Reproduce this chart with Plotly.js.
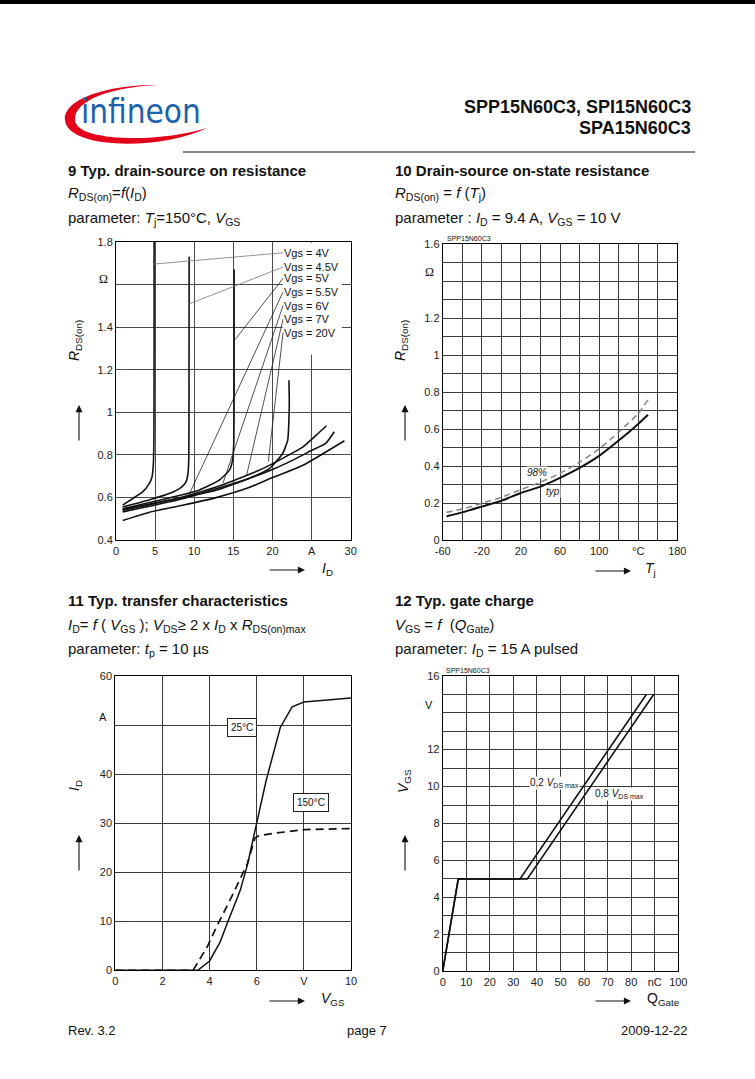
<!DOCTYPE html>
<html>
<head>
<meta charset="utf-8">
<script src="https://cdn.plot.ly/plotly-3.0.1.min.js"></script>
<style>
  body { margin: 0; background: #fff; }
  #page { width: 755px; height: 1079px; }
</style>
</head>
<body>
<div id="page"></div>
<script>
// ---------- data ----------

// 9: RDS(on) = f(ID), Tj = 150 C, one curve per VGS
const vgsNames = ['Vgs = 4V', 'Vgs = 4.5V', 'Vgs = 5V', 'Vgs = 5.5V', 'Vgs = 6V', 'Vgs = 7V', 'Vgs = 20V'];
const id_4v  = [0.85, 2.1, 3.4, 4.25, 4.6, 4.78, 4.85, 4.87, 4.87];
const r_4v   = [0.565, 0.595, 0.627, 0.666, 0.697, 0.76, 0.9, 1.3, 1.8];
const id_45v = [0.85, 4.3, 6.8, 8.3, 8.95, 9.2, 9.3, 9.33, 9.35];
const r_45v  = [0.556, 0.59, 0.619, 0.647, 0.674, 0.713, 0.78, 1.0, 1.73];
const id_5v  = [0.85, 6.4, 10.6, 13.2, 14.5, 14.9, 15.05, 15.1, 15.1];
const r_5v   = [0.548, 0.595, 0.635, 0.682, 0.729, 0.776, 0.85, 1.1, 1.67];
const id_55v = [0.85, 8.5, 12.8, 17.0, 19.6, 21.3, 21.95, 22.1, 22.15, 22.1];
const r_55v  = [0.544, 0.6, 0.635, 0.69, 0.736, 0.807, 0.87, 0.96, 1.05, 1.15];
const id_6v  = [0.85, 8.5, 12.8, 16.2, 18.75, 21.3, 23.9, 25.6, 26.9];
const r_6v   = [0.54, 0.603, 0.65, 0.697, 0.736, 0.784, 0.838, 0.893, 0.937];
const id_7v  = [0.85, 8.5, 12.8, 17.0, 20.0, 22.6, 25.1, 26.8, 27.9];
const r_7v   = [0.533, 0.595, 0.642, 0.69, 0.732, 0.776, 0.823, 0.854, 0.909];
const id_20v = [0.85, 4.3, 8.5, 12.8, 17.0, 20.0, 23.9, 29.2];
const r_20v  = [0.493, 0.532, 0.564, 0.6, 0.647, 0.694, 0.752, 0.867];
const idSeries = [id_4v, id_45v, id_5v, id_55v, id_6v, id_7v, id_20v];
const rSeries  = [r_4v, r_45v, r_5v, r_55v, r_6v, r_7v, r_20v];

// 10: RDS(on) = f(Tj), ID = 9.4 A, VGS = 10 V
const tj    = [-56, -40, -20, 0, 20, 40, 60, 80, 100, 120, 140, 150];
const rTyp  = [0.13, 0.151, 0.182, 0.214, 0.256, 0.29, 0.337, 0.391, 0.456, 0.539, 0.629, 0.679];
const r98   = [0.151, 0.169, 0.2, 0.232, 0.274, 0.314, 0.362, 0.422, 0.494, 0.584, 0.686, 0.759];

// 11: ID = f(VGS)
const vgs25  = [0, 3.5, 4.0, 4.45, 4.75, 5.3, 5.6, 6.0, 6.4, 7.0, 7.5, 8.0, 9.0, 10];
const id25   = [0, 0, 1.9, 5.8, 9.6, 16.3, 21.4, 30, 38.7, 49.5, 53.7, 54.7, 55.1, 55.5];
const vgs150 = [0, 3.3, 3.9, 4.3, 5.0, 5.6, 5.93, 6.14, 6.85, 8.05, 10];
const id150  = [0, 0, 4.8, 8.9, 15.6, 21.7, 27.0, 27.5, 28.0, 28.7, 28.9];

// 12: VGS = f(QGate), ID = 15 A pulsed
const qg02  = [0, 6.6, 32.8, 86.5];
const vgs02 = [0, 5, 5, 15];
const qg08  = [0, 6.6, 35.9, 89.6];
const vgs08 = [0, 5, 5, 15];

// tick labels (units sit in place of one number)
const x9vals = [0, 5, 10, 15, 20, 25, 30];
const x9text = ['0', '5', '10', '15', '20', 'A', '30'];
const y9vals = [0.4, 0.6, 0.8, 1, 1.2, 1.4, 1.6, 1.8];
const y9text = ['0.4', '0.6', '0.8', '1', '1.2', '1.4', ' ', '1.8'];
const x10vals = [-60, -20, 20, 60, 100, 140, 180];
const x10text = ['-60', '-20', '20', '60', '100', '°C', '180'];
const y10vals = [0, 0.2, 0.4, 0.6, 0.8, 1, 1.2, 1.6];
const y10text = ['0', '0.2', '0.4', '0.6', '0.8', '1', '1.2', '1.6'];
const x11vals = [0, 2, 4, 6, 8, 10];
const x11text = ['0', '2', '4', '6', 'V', '10'];
const y11vals = [0, 10, 20, 30, 40, 50, 60];
const y11text = ['0', '10', '20', '30', '40', ' ', '60'];
const x12vals = [0, 10, 20, 30, 40, 50, 60, 70, 80, 90, 100];
const x12text = ['0', '10', '20', '30', '40', '50', '60', '70', '80', 'nC', '100'];
const y12vals = [0, 2, 4, 6, 8, 10, 12, 16];
const y12text = ['0', '2', '4', '6', '8', '10', '12', '16'];

// ---------- page helpers (pixel -> paper) ----------
const W = 755, H = 1079;
const fx = x => x / W;
const fy = y => 1 - y / H;
const FONT = 'Liberation Sans, Arial, Helvetica, sans-serif';

function txt(s, x, y, size, extra) {
    return Object.assign({
        xref: 'paper', yref: 'paper', x: fx(x), y: fy(y), text: s,
        showarrow: false, xanchor: 'left', yanchor: 'middle',
        font: {family: FONT, size: size, color: '#111'}
    }, extra || {});
}

function arrow(x0, y0, x1, y1) {
    return {
        xref: 'paper', yref: 'paper', x: fx(x1), y: fy(y1),
        ax: x0 - x1, ay: y0 - y1, text: '', showarrow: true,
        arrowhead: 2, arrowsize: 1.3, arrowwidth: 1.1, arrowcolor: '#111'
    };
}

function axis(dom, range, vals, text, extra) {
    return Object.assign({
        domain: dom, range: range, tickmode: 'array', tickvals: vals, ticktext: text,
        showline: true, mirror: true, linecolor: '#000', linewidth: 1,
        showgrid: true, gridcolor: '#3a3a3a', gridwidth: 1, zeroline: false,
        ticks: '', fixedrange: true,
        tickfont: {family: FONT, size: 11, color: '#222'}
    }, extra || {});
}

// ---------- traces ----------
let traces = [];

//chart 9 curves
for (let i = 0; i < idSeries.length; i++) {
    traces.push({
        x: idSeries[i], y: rSeries[i], xaxis: 'x', yaxis: 'y',
        name: vgsNames[i], type: 'scatter', mode: 'lines',
        line: {color: '#111', width: 1.6, shape: 'spline', smoothing: 0.5},
        hoverinfo: 'skip', showlegend: false
    });
}

//chart 10
traces.push({
    x: tj, y: r98, xaxis: 'x2', yaxis: 'y2', name: '98%', mode: 'lines',
    line: {color: '#888', width: 1.6, dash: '6px,4px', shape: 'spline', smoothing: 0.6},
    showlegend: false
});
traces.push({
    x: tj, y: rTyp, xaxis: 'x2', yaxis: 'y2', name: 'typ', mode: 'lines',
    line: {color: '#111', width: 2, shape: 'spline', smoothing: 0.6},
    showlegend: false
});

//chart 11
traces.push({
    x: vgs25, y: id25, xaxis: 'x3', yaxis: 'y3', name: '25°C', mode: 'lines',
    line: {color: '#111', width: 1.5}, showlegend: false
});
traces.push({
    x: vgs150, y: id150, xaxis: 'x3', yaxis: 'y3', name: '150°C', mode: 'lines',
    line: {color: '#111', width: 1.7, dash: '8px,5px'}, showlegend: false
});

//chart 12
traces.push({
    x: qg02, y: vgs02, xaxis: 'x4', yaxis: 'y4', name: '0,2 VDS max', mode: 'lines',
    line: {color: '#111', width: 1.6}, showlegend: false
});
traces.push({
    x: qg08, y: vgs08, xaxis: 'x4', yaxis: 'y4', name: '0,8 VDS max', mode: 'lines',
    line: {color: '#111', width: 1.6}, showlegend: false
});

// ---------- annotations ----------
let notes = [];

//page header and footer
notes.push(txt('infineon', 141, 111, 33, {
    xanchor: 'center',
    font: {family: 'Liberation Sans Narrow, Arial Narrow, DejaVu Sans Condensed, sans-serif', size: 33, color: '#1b63ae'}
}));
notes.push(txt('<b>SPP15N60C3, SPI15N60C3</b>', 693, 107, 18, {xanchor: 'right'}));
notes.push(txt('<b>SPA15N60C3</b>', 693, 128, 18, {xanchor: 'right'}));
notes.push(txt('Rev. 3.2', 66, 1030, 13));
notes.push(txt('page 7', 367, 1030, 13, {xanchor: 'center'}));
notes.push(txt('2009-12-22', 690, 1030, 13, {xanchor: 'right'}));

//headings
notes.push(txt('<b>9 Typ. drain-source on resistance</b>', 66, 170, 15));
notes.push(txt('<i>R</i><sub>DS(on)</sub>=<i>f</i>(<i>I</i><sub>D</sub>)', 66, 194, 15));
notes.push(txt('parameter: <i>T</i><sub>j</sub>=150°C, <i>V</i><sub>GS</sub>', 66, 218, 15));
notes.push(txt('<b>10 Drain-source on-state resistance</b>', 393, 170, 15));
notes.push(txt('<i>R</i><sub>DS(on)</sub> = <i>f</i> (<i>T</i><sub>j</sub>)', 393, 194, 15));
notes.push(txt('parameter : <i>I</i><sub>D</sub> = 9.4 A, <i>V</i><sub>GS</sub> = 10 V', 393, 218, 15));
notes.push(txt('<b>11 Typ. transfer characteristics</b>', 66, 600, 15));
notes.push(txt('<i>I</i><sub>D</sub>= <i>f</i> ( <i>V</i><sub>GS</sub> ); <i>V</i><sub>DS</sub>≥ 2 x <i>I</i><sub>D</sub> x <i>R</i><sub>DS(on)max</sub>', 66, 625, 15));
notes.push(txt('parameter: <i>t</i><sub>p</sub> = 10 µs', 66, 649, 15));
notes.push(txt('<b>12 Typ. gate charge</b>', 393, 600, 15));
notes.push(txt('<i>V</i><sub>GS</sub> = <i>f</i>  (<i>Q</i><sub>Gate</sub>)', 393, 625, 15));
notes.push(txt('parameter: <i>I</i><sub>D</sub> = 15 A pulsed', 393, 649, 15));

//axis titles, units and arrows
const serif = {family: 'Liberation Serif, Times New Roman, serif', size: 12, color: '#111'};
notes.push(txt('Ω', 103, 279, 12, {xanchor: 'center', font: serif}));
notes.push(txt('Ω', 429, 272, 12, {xanchor: 'center', font: serif}));
notes.push(txt('A', 103, 717, 11, {xanchor: 'center'}));
notes.push(txt('V', 429, 705, 11, {xanchor: 'center'}));

notes.push(txt('<i>R</i><sub>DS(on)</sub>', 75, 341, 14, {xanchor: 'center', textangle: -90}));
notes.push(txt('<i>R</i><sub>DS(on)</sub>', 401, 341, 14, {xanchor: 'center', textangle: -90}));
notes.push(txt('<i>I</i><sub>D</sub>', 75, 786, 14, {xanchor: 'center', textangle: -90}));
notes.push(txt('<i>V</i><sub>GS</sub>', 404, 781, 14, {xanchor: 'center', textangle: -90}));

notes.push(txt('<i>I</i><sub>D</sub>', 327, 569, 14, {xanchor: 'center'}));
notes.push(txt('<i>T</i><sub>j</sub>', 650, 569, 14, {xanchor: 'center'}));
notes.push(txt('<i>V</i><sub>GS</sub>', 333, 999, 14, {xanchor: 'center'}));
notes.push(txt('Q<sub>Gate</sub>', 663, 999, 14, {xanchor: 'center'}));

notes.push(arrow(79, 442, 79, 405));
notes.push(arrow(405, 442, 405, 405));
notes.push(arrow(79, 872, 79, 835));
notes.push(arrow(405, 872, 405, 835));
notes.push(arrow(268, 570, 305, 570));
notes.push(arrow(594, 571, 631, 571));
notes.push(arrow(268, 1001, 305, 1001));
notes.push(arrow(594, 1001, 631, 1001));

notes.push(txt('SPP15N60C3', 445, 239, 7));
notes.push(txt('SPP15N60C3', 444, 670, 7));

//chart 9 labels with leader lines to the curves
const labelY9 = [1.748, 1.681, 1.628, 1.564, 1.5, 1.436, 1.373];
const leadX9 = [4.86, 9.33, 15.2, 9.2, 13.68, 16.7, 19.47];
const leadY9 = [1.695, 1.508, 1.34, 0.603, 0.669, 0.706, 0.769];
for (let i = 0; i < vgsNames.length; i++) {
    notes.push({
        xref: 'x', yref: 'y', x: leadX9[i], y: leadY9[i],
        axref: 'x', ayref: 'y', ax: 21.35, ay: labelY9[i],
        text: vgsNames[i], xanchor: 'left', yanchor: 'middle',
        showarrow: true, arrowhead: 0, arrowwidth: 0.8,
        arrowcolor: i < 2 ? '#777' : '#222',
        bgcolor: '#fff', borderpad: 0,
        font: {family: FONT, size: 11, color: '#111'}
    });
}

//chart 10 labels
notes.push({xref: 'x2', yref: 'y2', x: 36.8, y: 0.365, text: '<i>98%</i>', showarrow: false,
    bgcolor: '#fff', borderpad: 0, font: {family: FONT, size: 10, color: '#222'}});
notes.push({xref: 'x2', yref: 'y2', x: 53.1, y: 0.263, text: '<i>typ</i>', showarrow: false,
    bgcolor: '#fff', borderpad: 0, font: {family: FONT, size: 10, color: '#222'}});

//chart 11 boxed labels
notes.push({xref: 'x3', yref: 'y3', x: 5.39, y: 49.5, text: '25°C', showarrow: false,
    bgcolor: '#fff', bordercolor: '#222', borderwidth: 1, borderpad: 3,
    font: {family: FONT, size: 10, color: '#111'}});
notes.push({xref: 'x3', yref: 'y3', x: 8.32, y: 34.3, text: '150°C', showarrow: false,
    bgcolor: '#fff', bordercolor: '#222', borderwidth: 1, borderpad: 3,
    font: {family: FONT, size: 10, color: '#111'}});

//chart 12 labels
notes.push({xref: 'x4', yref: 'y4', x: 47.6, y: 10.2, text: '0,2 <i>V</i><sub>DS max</sub>', showarrow: false,
    bgcolor: '#fff', borderpad: 0, font: {family: FONT, size: 10, color: '#111'}});
notes.push({xref: 'x4', yref: 'y4', x: 75, y: 9.6, text: '0,8 <i>V</i><sub>DS max</sub>', showarrow: false,
    bgcolor: '#fff', borderpad: 0, font: {family: FONT, size: 10, color: '#111'}});

// ---------- shapes: page furniture and logo ----------
function pt(x, y) { return fx(x).toFixed(5) + ',' + fy(y).toFixed(5); }
const swoosh = 'M' + pt(158, 85) +
    ' C' + pt(112, 84) + ' ' + pt(63, 98) + ' ' + pt(65, 120) +
    ' C' + pt(67, 149) + ' ' + pt(160, 151) + ' ' + pt(207, 128) +
    ' C' + pt(160, 143) + ' ' + pt(76, 142) + ' ' + pt(75, 120) +
    ' C' + pt(74, 100) + ' ' + pt(112, 87) + ' ' + pt(158, 85) + ' Z';

let shapes = [
    {type: 'rect', xref: 'paper', yref: 'paper', x0: 0, x1: 1, y0: fy(4), y1: 1,
        fillcolor: '#000', line: {width: 0}},
    {type: 'line', xref: 'paper', yref: 'paper', x0: fx(183), x1: fx(695), y0: fy(152), y1: fy(152),
        line: {color: '#888', width: 2}},
    {type: 'path', xref: 'paper', yref: 'paper', path: swoosh,
        fillcolor: '#e2001a', line: {width: 0}},
    //white patch behind the chart 9 legend text
    {type: 'rect', xref: 'x', yref: 'y', x0: 21.3, x1: 28.85, y0: 1.27, y1: 1.795,
        fillcolor: '#fff', line: {width: 0}, layer: 'between'}
];

// ---------- layout ----------
let layout = {
    width: W, height: H,
    margin: {l: 0, r: 0, t: 0, b: 0},
    paper_bgcolor: '#fff', plot_bgcolor: '#fff',
    showlegend: false,
    font: {family: FONT},
    xaxis: axis([fx(116), fx(350.7)], [0, 30], x9vals, x9text, {anchor: 'y', gridcolor: '#4a4a4a'}),
    yaxis: axis([fy(540.3), fy(241.7)], [0.4, 1.8], y9vals, y9text, {anchor: 'x', gridcolor: '#4a4a4a'}),
    xaxis2: axis([fx(442.7), fx(677.3)], [-60, 180], x10vals, x10text, {anchor: 'y2',
        minor: {tickmode: 'linear', tick0: -60, dtick: 20, showgrid: true, gridcolor: '#3a3a3a', gridwidth: 1, ticks: ''}}),
    yaxis2: axis([fy(540.3), fy(244.3)], [0, 1.6], y10vals, y10text, {anchor: 'x2',
        minor: {tickmode: 'linear', tick0: 0, dtick: 0.1, showgrid: true, gridcolor: '#3a3a3a', gridwidth: 1, ticks: ''}}),
    xaxis3: axis([fx(115.3), fx(351)], [0, 10], x11vals, x11text, {anchor: 'y3'}),
    yaxis3: axis([fy(970.3), fy(676)], [0, 60], y11vals, y11text, {anchor: 'x3'}),
    xaxis4: axis([fx(442.7), fx(678.3)], [0, 100], x12vals, x12text, {anchor: 'y4'}),
    yaxis4: axis([fy(971.3), fy(675.7)], [0, 16], y12vals, y12text, {anchor: 'x4',
        minor: {tickmode: 'linear', tick0: 0, dtick: 1, showgrid: true, gridcolor: '#3a3a3a', gridwidth: 1, ticks: ''}}),
    annotations: notes,
    shapes: shapes
};

let options = {
    displayModeBar: false,
    staticPlot: true
};

Plotly.newPlot('page', traces, layout, options);
</script>
</body>
</html>
